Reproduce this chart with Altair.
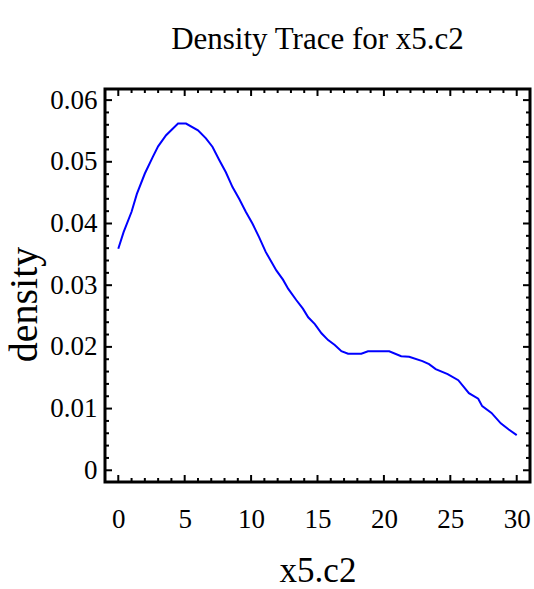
import altair as alt
import pandas as pd

# --- data ---
x_vals = [0.0, 0.4, 1.0, 1.4, 2.0, 2.6, 3.0, 3.6, 4.5, 5.1, 6.0, 6.6, 7.1, 7.6, 8.1,
          8.6, 9.1, 9.6, 10.1, 10.6, 11.1, 11.6, 11.9, 12.4, 12.8, 13.4, 13.9, 14.3,
          14.8, 15.3, 15.8, 16.3, 16.8, 17.3, 18.3, 18.8, 20.4, 21.3, 21.9, 22.9,
          23.4, 23.9, 24.8, 25.6, 26.4, 27.1, 27.4, 28.1, 28.8, 29.4, 30.0]
density = [0.0359, 0.0386, 0.0419, 0.0448, 0.0481, 0.0508, 0.0525, 0.0543, 0.0562,
           0.0562, 0.0551, 0.0538, 0.0524, 0.0503, 0.0483, 0.0459, 0.0440, 0.0419,
           0.0400, 0.0378, 0.0354, 0.0335, 0.0324, 0.0309, 0.0294, 0.0276, 0.0262,
           0.0248, 0.0237, 0.0222, 0.0211, 0.0203, 0.0193, 0.0189, 0.0189, 0.0193,
           0.0193, 0.0185, 0.0184, 0.0177, 0.0172, 0.0164, 0.0156, 0.0146, 0.0125,
           0.0116, 0.0104, 0.0093, 0.0076, 0.0066, 0.0057]

x_major = [0, 5, 10, 15, 20, 25, 30]
x_minor = [v for v in range(0, 31) if v % 5 != 0]
y_major = [0.0, 0.01, 0.02, 0.03, 0.04, 0.05, 0.06]
y_minor = [round(i * 0.002, 3) for i in range(0, 31) if i % 5 != 0]

title_text = "Density Trace for x5.c2"
x_title = "x5.c2"
y_title = "density"

W, H = 425, 393
FONT = "Liberation Serif"
X_DOMAIN = [-1, 31]
Y_DOMAIN = [-0.0019, 0.0618]

df = pd.DataFrame({"x": x_vals, "density": density})
xs = alt.Scale(domain=X_DOMAIN, nice=False, zero=False)
ys = alt.Scale(domain=Y_DOMAIN, nice=False, zero=False)

line = alt.Chart(df).mark_line(color="#0000FF", strokeWidth=2).encode(
    x=alt.X("x:Q", scale=xs, title=x_title,
            axis=alt.Axis(values=x_major, ticks=False, domain=False, grid=False,
                          labelFont=FONT, labelFontSize=27, labelPadding=24,
                          labelColor="black", titleFont=FONT, titleFontSize=35,
                          titleFontWeight="normal", titleColor="black",
                          titlePadding=21)),
    y=alt.Y("density:Q", scale=ys, title=y_title,
            axis=alt.Axis(values=y_major, ticks=False, domain=False, grid=False,
                          format="~g", labelFont=FONT, labelFontSize=27,
                          labelPadding=8, labelColor="black", titleFont=FONT,
                          titleFontSize=40, titleFontWeight="normal",
                          titleColor="black", titlePadding=5, titleY=215)),
)


def xticks(vals, length):
    d = pd.DataFrame({"t": vals})
    bottom = alt.Chart(d).mark_rule(color="black", strokeWidth=2).encode(
        x=alt.X("t:Q", scale=xs), y=alt.value(H), y2=alt.value(H - length))
    top = alt.Chart(d).mark_rule(color="black", strokeWidth=2).encode(
        x=alt.X("t:Q", scale=xs), y=alt.value(0), y2=alt.value(length))
    return [bottom, top]


def yticks(vals, length):
    d = pd.DataFrame({"t": vals})
    left = alt.Chart(d).mark_rule(color="black", strokeWidth=2).encode(
        y=alt.Y("t:Q", scale=ys), x=alt.value(0), x2=alt.value(length))
    right = alt.Chart(d).mark_rule(color="black", strokeWidth=2).encode(
        y=alt.Y("t:Q", scale=ys), x=alt.value(W), x2=alt.value(W - length))
    return [left, right]


layers = [line] + xticks(x_major, 7) + xticks(x_minor, 4) + yticks(y_major, 7) + yticks(y_minor, 4)

chart = alt.layer(*layers).properties(
    width=W, height=H,
    title=alt.TitleParams(title_text, font=FONT, fontSize=31, fontWeight="normal",
                          color="black", anchor="middle", offset=30),
    autosize=alt.AutoSizeParams(type="none"),
    padding={"left": 105, "top": 89, "right": 4, "bottom": 107},
).configure_view(stroke="black", strokeWidth=3).configure_axis(
    labelFont=FONT, titleFont=FONT)

chart.save("out.html", embed_options={"renderer": "svg", "actions": False})
